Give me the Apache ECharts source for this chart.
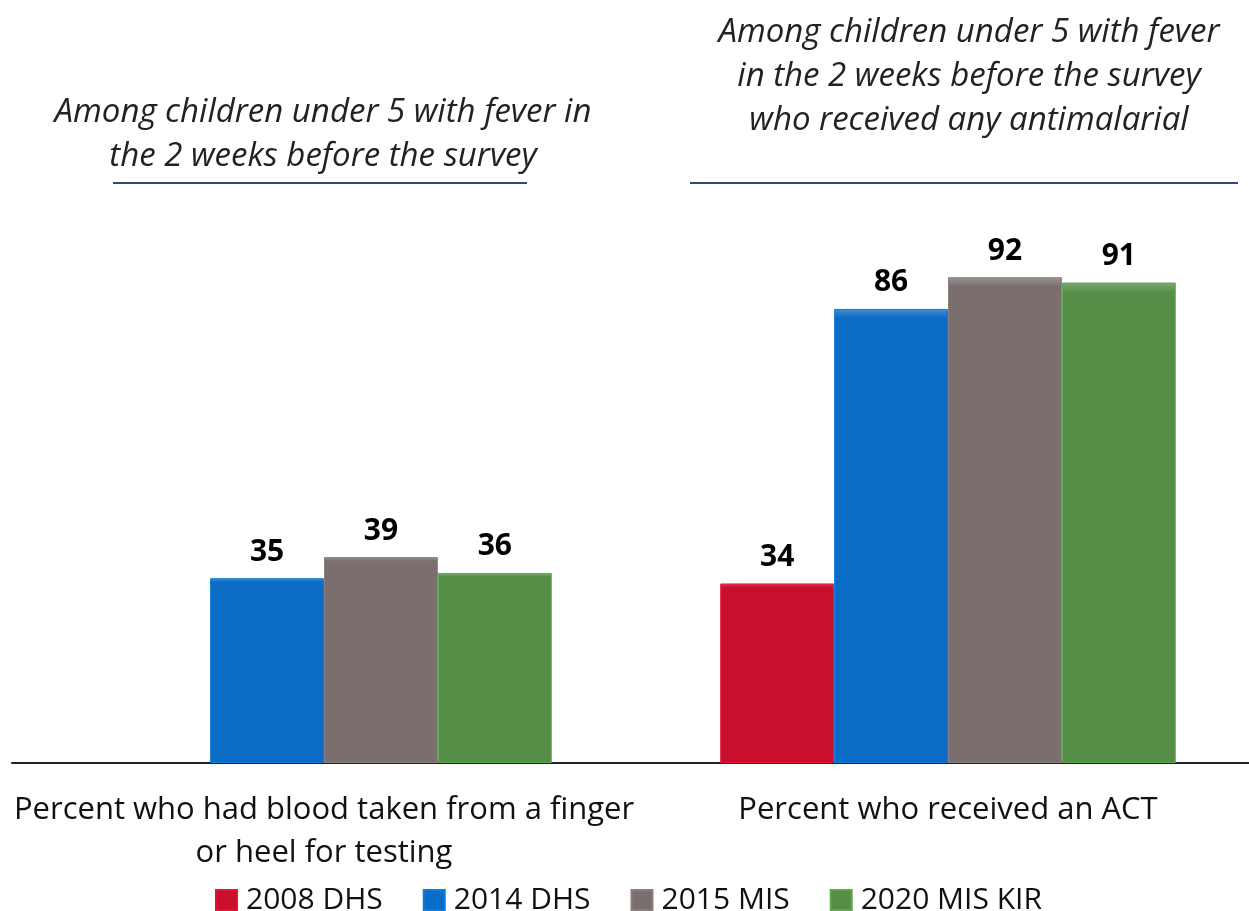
<!DOCTYPE html>
<html>
<head>
<meta charset="utf-8">
<title>Malaria testing and treatment among children with fever</title>
<script src="https://cdn.jsdelivr.net/npm/echarts@6/dist/echarts.min.js"></script>
<style>
  html, body { margin: 0; padding: 0; background: #ffffff; }
  #chart { width: 1249px; height: 911px; }
</style>
</head>
<body>
<div id="chart"></div>
<script>
// Indicator categories along the x axis
const categories = [
  'Percent who had blood taken from a finger\nor heel for testing',
  'Percent who received an ACT'
];

// Survey rounds (legend order) and their values per category; null = not collected
const surveys = ['2008 DHS', '2014 DHS', '2015 MIS', '2020 MIS KIR'];
const dhs2008 = [null, 34];
const dhs2014 = [35, 86];
const mis2015 = [39, 92];
const mis2020 = [36, 91];

// Denominator headings shown above each group
const leftHeading = 'Among children under 5 with fever in\nthe 2 weeks before the survey';
const rightHeading = 'Among children under 5 with fever\nin the 2 weeks before the survey\nwho received any antimalarial';

const seriesColors = ['#c8102e', '#0a6cc4', '#7a6e6e', '#558f47'];
const seriesValues = [dhs2008, dhs2014, mis2015, mis2020];

const textFont = '"Open Sans", "Noto Sans", sans-serif';

function barFill(c) {
  return {
    type: 'linear', x: 0, y: 0, x2: 0, y2: 1,
    colorStops: [
      { offset: 0, color: echarts.color.lift(c, 0.25) },
      { offset: 0.02, color: c },
      { offset: 1, color: c }
    ]
  };
}

const chart = echarts.init(document.getElementById('chart'), null, { renderer: 'canvas' });

chart.setOption({
  backgroundColor: '#ffffff',
  animation: false,
  title: [
    {
      text: leftHeading,
      left: 318, top: 86, textAlign: 'center',
      textStyle: { fontFamily: textFont, fontStyle: 'italic', fontWeight: 'normal', fontSize: 33, lineHeight: 44, color: '#222222' }
    },
    {
      text: rightHeading,
      left: 964, top: 6, textAlign: 'center',
      textStyle: { fontFamily: textFont, fontStyle: 'italic', fontWeight: 'normal', fontSize: 33, lineHeight: 44, color: '#222222' }
    }
  ],
  graphic: [
    { type: 'line', shape: { x1: 113, y1: 183, x2: 527, y2: 183 }, style: { stroke: '#2f4a7a', lineWidth: 2 } },
    { type: 'line', shape: { x1: 690, y1: 183, x2: 1238, y2: 183 }, style: { stroke: '#2f4a7a', lineWidth: 2 } }
  ],
  legend: {
    data: surveys,
    top: 880,
    left: 210,
    itemWidth: 21,
    itemHeight: 20,
    itemGap: 40,
    icon: 'rect',
    textStyle: { fontFamily: textFont, fontSize: 30, color: '#111111', padding: [0, 0, 0, 4] }
  },
  grid: { left: 12, right: -11, top: 235, bottom: 148, outerBoundsMode: 'none', containLabel: false },
  xAxis: {
    type: 'category',
    data: categories,
    axisLine: { show: true, lineStyle: { color: '#222222', width: 2 } },
    axisTick: { show: false },
    axisLabel: {
      fontFamily: textFont, fontSize: 31, lineHeight: 43, color: '#111111', margin: 26, interval: 0
    }
  },
  yAxis: { type: 'value', min: 0, max: 100, show: false, splitLine: { show: false } },
  series: surveys.map((name, i) => ({
    name,
    type: 'bar',
    data: seriesValues[i],
    barGap: '0%',
    barCategoryGap: '27%',
    itemStyle: {
      color: barFill(seriesColors[i]),
      borderColor: echarts.color.lift(seriesColors[i], -0.15),
      borderWidth: 1
    },
    label: {
      show: true,
      position: 'top',
      distance: 11,
      fontFamily: textFont, fontSize: 30, fontWeight: 'bold', color: '#000000'
    }
  }))
});
</script>
</body>
</html>
